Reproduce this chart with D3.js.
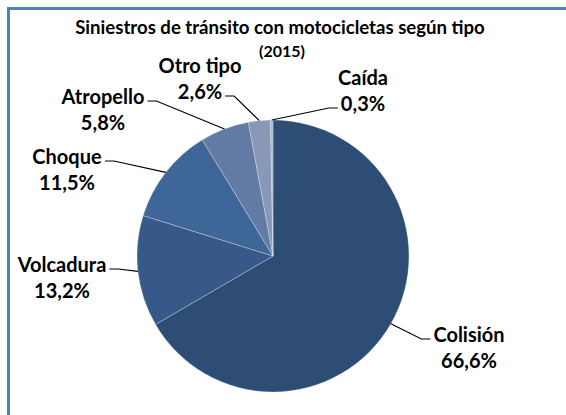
<!DOCTYPE html>
<html>
<head>
<meta charset="utf-8">
<script src="https://cdn.jsdelivr.net/npm/d3@7"></script>
<style>
  body { margin: 0; background: #fff; }
  svg text { font-family: Lato, 'Open Sans', sans-serif; font-weight: 700; fill: #000; }
</style>
</head>
<body>
<svg id="chart" width="566" height="415"></svg>
<script>
'use strict';

var categories = ['Colisión', 'Volcadura', 'Choque', 'Atropello', 'Otro tipo', 'Caída'];
var shares = [66.6, 13.2, 11.5, 5.8, 2.6, 0.3];
var titleLines = ['Siniestros de tránsito con motocicletas según tipo', '(2015)'];

var sliceColors = ['#2e4d74', '#36598a', '#3e6699', '#617ba5', '#8898b6', '#a9b6cc'];

// where each label sits, relative to the pie centre (first line baseline)
// hook = which text line the leader line attaches to
var labelLayout = {
    'Colisión':  {dx: 196,  dy: 86,   hook: 0, side: 'right'},
    'Volcadura': {dx: -211, dy: 16,   hook: 0, side: 'left'},
    'Choque':    {dx: -206, dy: -92,  hook: 0, side: 'left'},
    'Atropello': {dx: -170, dy: -152, hook: 0, side: 'left'},
    'Otro tipo': {dx: -73,  dy: -183, hook: 1, side: 'left'},
    'Caída':     {dx: 90,   dy: -171, hook: 1, side: 'right'}
};

var width = 566,
    height = 415,
    cx = 273,
    cy = 256,
    radius = 136,
    lineGap = 26;

var pct = d3.formatLocale({decimal: ',', thousands: '.', grouping: [3], currency: ['', '']}).format('.1f');

var data = categories.map(function(c, i) {
    return {name: c, value: shares[i]};
});

var svg = d3.select('#chart');

// frame (top + left border of the chart area)
svg.append('path')
    .attr('d', 'M8.5,' + height + 'V8.5H' + width)
    .attr('fill', 'none')
    .attr('stroke', '#4f81bd')
    .attr('stroke-width', 3);

// title
svg.append('text')
    .attr('x', 280)
    .attr('y', 34)
    .attr('text-anchor', 'middle')
    .style('font-size', '18.6px')
    .text(titleLines[0]);
svg.append('text')
    .attr('x', 282)
    .attr('y', 57)
    .attr('text-anchor', 'middle')
    .style('font-size', '16px')
    .text(titleLines[1]);

var color = d3.scaleOrdinal()
    .domain(categories)
    .range(sliceColors);

var pie = d3.pie()
    .sort(null)
    .value(function(d) { return d.value; });

var arc = d3.arc()
    .innerRadius(0)
    .outerRadius(radius);

var rim = d3.arc()
    .innerRadius(radius)
    .outerRadius(radius);

var arcs = pie(data);

var g = svg.append('g')
    .attr('transform', 'translate(' + cx + ',' + cy + ')');

g.selectAll('.slice')
    .data(arcs)
    .enter()
    .append('path')
    .attr('class', 'slice')
    .attr('d', arc)
    .attr('fill', function(d) { return color(d.data.name); })
    .attr('stroke', 'rgba(255,255,255,0.35)')
    .attr('stroke-width', 0.8);

// labels + leader lines
var labels = g.selectAll('.label')
    .data(arcs)
    .enter()
    .append('g')
    .attr('class', 'label');

labels.each(function(d) {
    var lay = labelLayout[d.data.name],
        sel = d3.select(this),
        lines = [d.data.name, pct(d.data.value) + '%'],
        texts = [];

    lines.forEach(function(t, i) {
        texts.push(
            sel.append('text')
                .attr('x', lay.dx)
                .attr('y', lay.dy + i * lineGap)
                .attr('text-anchor', 'middle')
                .style('font-size', '20px')
                .text(t)
        );
    });

    var box = texts[lay.hook].node().getBBox(),
        y = lay.dy + lay.hook * lineGap - 3,
        x0 = lay.side === 'left' ? box.x + box.width + 3 : box.x - 3,
        x1 = lay.side === 'left' ? x0 + 9 : x0 - 9,
        end = rim.centroid(d);

    sel.insert('polyline', 'text')
        .attr('points', [[x0, y], [x1, y], end].join(' '))
        .attr('fill', 'none')
        .attr('stroke', '#000')
        .attr('stroke-width', 1.2);
});
</script>
</body>
</html>
